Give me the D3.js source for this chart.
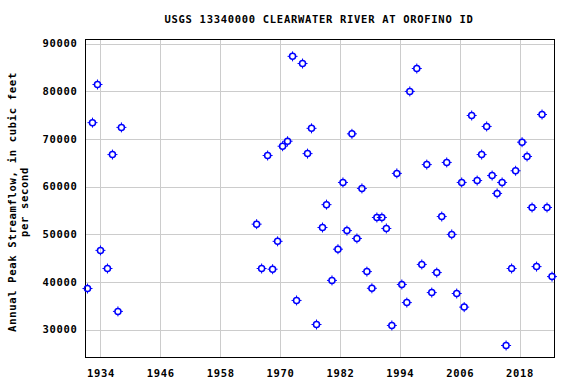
<!DOCTYPE html>
<html>

<head>
    <title>USGS 13340000 peak streamflow</title>
    <style>
        * {
            margin: 0;
            padding: 0;
        }

        body {
            background-color: #fff;
        }

        text {
            font-family: "DejaVu Sans Mono", monospace;
            font-weight: bold;
            font-size: 10.5px;
            letter-spacing: 0.7px;
            fill: #000;
        }
    </style>
    <script src="https://cdn.jsdelivr.net/npm/d3@7/dist/d3.min.js" type="text/javascript"></script>
</head>

<body>
    <div id="root"></div>

    <script>
        // peak dates as decimal years, peak flow in cfs
        var years = [
            1931.4, 1932.4, 1933.4, 1934.0, 1935.4, 1936.4, 1937.5, 1938.2,
            1965.3, 1966.3, 1967.5, 1968.5, 1969.5, 1970.5, 1971.5, 1972.5, 1973.3, 1974.5,
            1975.5, 1976.3, 1977.3, 1978.5, 1979.3, 1980.4, 1981.6, 1982.6, 1983.4, 1984.4,
            1985.4, 1986.4, 1987.4, 1988.4, 1989.4, 1990.4, 1991.3, 1992.4, 1993.4, 1994.4,
            1995.4, 1996.0, 1997.4, 1998.4, 1999.4, 2000.4, 2001.4, 2002.4, 2003.4, 2004.4,
            2005.4, 2006.4, 2006.9, 2008.4, 2009.5, 2010.4, 2011.4, 2012.5, 2013.5, 2014.5,
            2015.3, 2016.4, 2017.2, 2018.5, 2019.5, 2020.5, 2021.4, 2022.5, 2023.5, 2024.5
        ];
        var peaks = [
            38600, 73400, 81400, 46600, 42800, 66700, 33800, 72400,
            52100, 42800, 66500, 42650, 48500, 68450, 69500, 87300, 36100, 85800,
            66900, 72200, 31050, 51400, 56200, 40300, 46850, 60850, 50750, 71050,
            49100, 59600, 42150, 38650, 53500, 53500, 51200, 30850, 62750, 39450,
            35650, 79950, 84750, 43650, 64600, 37750, 41950, 53700, 65050, 49950,
            37550, 60850, 34700, 74900, 61250, 66700, 72600, 62300, 58550, 60850,
            26650, 42800, 63300, 69300, 66300, 55600, 43200, 75100, 55600, 41100
        ];
        var xTicks = [1934, 1946, 1958, 1970, 1982, 1994, 2006, 2018];
        var yTicks = [30000, 40000, 50000, 60000, 70000, 80000, 90000];

        var width = 576;
        var height = 384;
        var plotLeft = 85.5, plotRight = 554.5, plotTop = 39.5, plotBottom = 357.5;

        var svg = d3.select("#root").append("svg")
            .attr("width", width).attr("height", height);

        var x = d3.scaleLinear().domain([1931, 2025]).range([plotLeft, plotRight]);
        var y = d3.scaleLinear().domain([24130, 90840]).range([plotBottom, plotTop]);

        function renderGrid() {
            var g = svg.append("g").attr("class", "grid");
            g.selectAll("line.vx").data(xTicks).enter()
                .append("line").attr("class", "vx")
                .attr("x1", function (d) { return Math.round(x(d)) + 0.5; })
                .attr("x2", function (d) { return Math.round(x(d)) + 0.5; })
                .attr("y1", plotTop).attr("y2", plotBottom)
                .attr("stroke", "#cccccc");
            g.selectAll("line.hy").data(yTicks).enter()
                .append("line").attr("class", "hy")
                .attr("y1", function (d) { return Math.round(y(d)) + 0.5; })
                .attr("y2", function (d) { return Math.round(y(d)) + 0.5; })
                .attr("x1", plotLeft).attr("x2", plotRight)
                .attr("stroke", "#cccccc");
        }

        function renderAxes() {
            var xAxis = d3.axisBottom(x).tickValues(xTicks).tickSize(0).tickPadding(10)
                .tickFormat(d3.format("d"));
            var gx = svg.append("g").attr("transform", "translate(0," + plotBottom + ")").call(xAxis);
            gx.select(".domain").remove();
            gx.selectAll("text").attr("dy", "0.9em");
            gx.attr("font-size", null).attr("font-family", null);

            var yAxis = d3.axisLeft(y).tickValues(yTicks).tickSize(0).tickPadding(8)
                .tickFormat(d3.format("d"));
            var gy = svg.append("g").attr("transform", "translate(" + plotLeft + ",0)").call(yAxis);
            gy.select(".domain").remove();
            gy.attr("font-size", null).attr("font-family", null);

            svg.append("rect")
                .attr("x", plotLeft).attr("y", plotTop)
                .attr("width", plotRight - plotLeft).attr("height", plotBottom - plotTop)
                .attr("fill", "none").attr("stroke", "#000");
        }

        function renderText() {
            svg.append("text")
                .attr("x", 319).attr("y", 23)
                .attr("text-anchor", "middle")
                .text("USGS 13340000 CLEARWATER RIVER AT OROFINO ID");

            var t = svg.append("text")
                .attr("transform", "translate(16,202) rotate(-90)")
                .attr("text-anchor", "middle");
            t.append("tspan").attr("x", 0).attr("y", 0).text("Annual Peak Streamflow, in cubic feet");
            t.append("tspan").attr("x", 0).attr("y", 12).text("per second");
        }

        function renderPoints() {
            var data = years.map(function (d, i) { return { yr: d, q: peaks[i] }; });
            var g = svg.append("g").selectAll("g.pt").data(data).enter()
                .append("g").attr("class", "pt")
                .attr("transform", function (d) {
                    return "translate(" + x(d.yr) + "," + y(d.q) + ")";
                });
            g.append("circle").attr("r", 3)
                .attr("fill", "none").attr("stroke", "#0000ff").attr("stroke-width", 1.5);
            g.append("path")
                .attr("d", "M0,-5V-3M0,3V5M-5,0H-3M3,0H5")
                .attr("stroke", "#0000ff").attr("stroke-width", 1);
        }

        renderGrid();
        renderAxes();
        renderText();
        renderPoints();
    </script>
</body>

</html>
